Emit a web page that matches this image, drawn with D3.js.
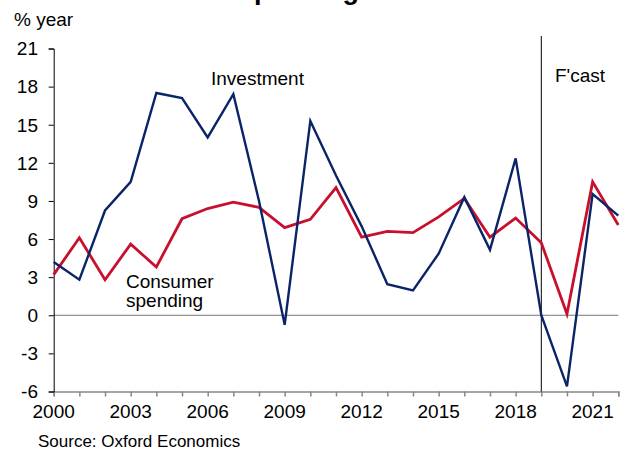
<!DOCTYPE html>
<html>
<head>
<meta charset="utf-8">
<script src="https://cdn.jsdelivr.net/npm/d3@7"></script>
<style>
  html, body { margin: 0; padding: 0; background: #fff; }
  svg { display: block; font-family: "Liberation Sans", Arial, sans-serif; }
</style>
</head>
<body>
<svg id="chart" width="632" height="453"></svg>
<script>
const years = d3.range(2000, 2023);
const investment = [4.2, 2.8, 8.25, 10.5, 17.5, 17.1, 14.0, 17.4, 9.0, -0.75, 15.3, 11.0, 7.0, 2.45, 1.95, 4.85, 9.3, 5.15, 12.35, 0.0, -5.6, 9.55, 7.85];
const consumer   = [3.2, 6.1, 2.8, 5.6, 3.8, 7.6, 8.4, 8.9, 8.5, 6.9, 7.55, 10.05, 6.15, 6.6, 6.5, 7.75, 9.2, 6.15, 7.65, 5.7, 0.1, 10.5, 7.1];
const yTicks = [21, 18, 15, 12, 9, 6, 3, 0, -3, -6];
const xLabelYears = [2000, 2003, 2006, 2009, 2012, 2015, 2018, 2021];
const forecastYear = 2019;
const title = "Consumer spending and investment";
const yUnit = "% year";
const source = "Source: Oxford Economics";

const svg = d3.select("#chart");
const x = d3.scaleLinear().domain([2000, 2022]).range([53.7, 618.3]);
const y = d3.scaleLinear().domain([-6, 21]).range([391.5, 48.5]);

// title (cut off at top in reference)
svg.append("text").attr("x", 98).attr("y", -1.5)
  .attr("font-size", 27).attr("font-weight", "bold").attr("fill", "#000")
  .text(title);

svg.append("text").attr("x", 14).attr("y", 26).attr("font-size", 19).attr("fill", "#000").text(yUnit);

// zero line
svg.append("line").attr("x1", x(2000)).attr("x2", x(2022))
  .attr("y1", y(0)).attr("y2", y(0)).attr("stroke", "#777").attr("stroke-width", 1);

// x axis
const xAxis = d3.axisBottom(x).tickValues(years).tickSize(5).tickFormat("");
const gx = svg.append("g").attr("transform", `translate(0,${y(-6)})`).call(xAxis);
gx.select(".domain").attr("stroke", "#888").attr("stroke-width", 1.5);
gx.selectAll(".tick line").attr("stroke", "#888").attr("stroke-width", 1.5);
gx.selectAll(".tick text").remove();
svg.append("g").selectAll("text").data(xLabelYears).join("text")
  .attr("x", d => x(d)).attr("y", 418).attr("text-anchor", "middle")
  .attr("font-size", 19).attr("fill", "#000").text(d => d);

// y axis
const yAxis = d3.axisLeft(y).tickValues(yTicks).tickSize(5).tickFormat("");
const gy = svg.append("g").attr("transform", `translate(${x(2000)},0)`).call(yAxis);
gy.select(".domain").attr("stroke", "#000").attr("stroke-width", 1);
gy.selectAll(".tick line").attr("stroke", "#000");
svg.append("g").selectAll("text").data(yTicks).join("text")
  .attr("x", 38).attr("y", d => y(d)).attr("dy", "0.36em").attr("text-anchor", "end")
  .attr("font-size", 19).attr("fill", "#000").text(d => d);

// forecast divider
svg.append("line").attr("x1", x(forecastYear)).attr("x2", x(forecastYear))
  .attr("y1", 36).attr("y2", y(-6)).attr("stroke", "#000").attr("stroke-width", 1);
svg.append("text").attr("x", 555).attr("y", 82).attr("font-size", 19).attr("fill", "#000").text("F'cast");

const line = d3.line().x((d, i) => x(years[i])).y(d => y(d));

svg.append("path").datum(consumer).attr("d", line)
  .attr("fill", "none").attr("stroke", "#c8102e").attr("stroke-width", 2.8).attr("stroke-linejoin", "miter");
svg.append("path").datum(investment).attr("d", line)
  .attr("fill", "none").attr("stroke", "#0a2468").attr("stroke-width", 2.4).attr("stroke-linejoin", "miter");

// series labels
svg.append("text").attr("x", 211).attr("y", 85).attr("font-size", 19).attr("fill", "#000").text("Investment");
svg.append("text").attr("x", 126).attr("y", 288).attr("font-size", 19).attr("fill", "#000").text("Consumer");
svg.append("text").attr("x", 126).attr("y", 307).attr("font-size", 19).attr("fill", "#000").text("spending");

svg.append("text").attr("x", 38).attr("y", 447).attr("font-size", 17).attr("fill", "#000").text(source);
</script>
</body>
</html>
